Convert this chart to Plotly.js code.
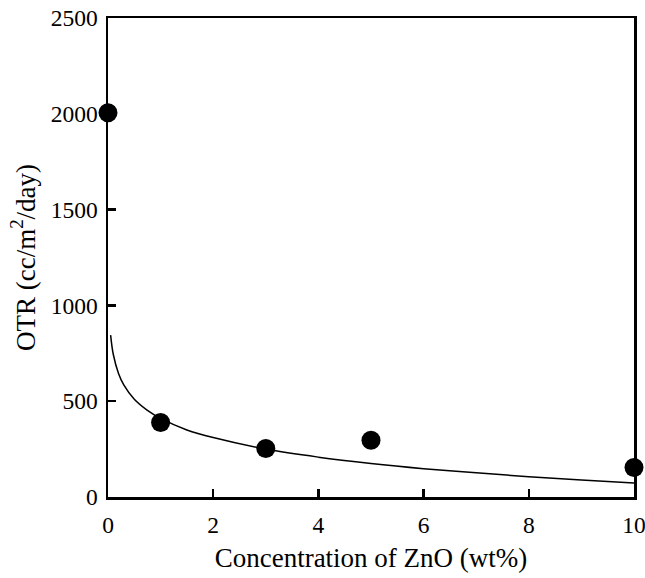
<!DOCTYPE html>
<html><head><meta charset="utf-8">
<script src="https://cdn.plot.ly/plotly-3.0.1.min.js"></script>
<style>body{margin:0;background:#fff}#chart{width:645px;height:578px}</style>
</head><body><div id="chart"></div>
<script>
const concentration = [0, 1, 3, 5, 10];
const otr = [2005, 389, 253, 296, 154];
const fitX = [0.05, 0.1, 0.2, 0.3, 0.5, 0.75, 1, 1.5, 2, 3, 4, 5, 6, 7, 8, 9, 10];
const fitY = [845, 745, 645, 585, 510, 452, 410, 350, 310, 250, 208, 175, 148, 126, 106, 89, 73];
const xTicks = [0, 2, 4, 6, 8, 10];
const yTicks = [0, 500, 1000, 1500, 2000, 2500];

const font = {family: 'Liberation Serif, Times New Roman, serif', color: '#000'};
const traces = [
  {x: fitX, y: fitY, mode: 'lines', line: {color: '#000', width: 1.5, shape: 'spline'}, hoverinfo: 'skip'},
  {x: concentration, y: otr, mode: 'markers', marker: {color: '#000', size: 19}, cliponaxis: false}
];
const axisCommon = {
  showline: true, linecolor: '#000', linewidth: 2.5, mirror: true,
  ticks: 'inside', ticklen: 8, tickwidth: 2.5, tickcolor: '#000',
  showgrid: false, zeroline: false, tickfont: Object.assign({size: 23.5}, font),
  ticklabeloverflow: 'allow'
};
const layout = {
  width: 645, height: 578, showlegend: false,
  paper_bgcolor: '#fff', plot_bgcolor: '#fff',
  margin: {l: 108, r: 11, t: 18, b: 81},
  xaxis: Object.assign({}, axisCommon, {
    range: [0, 10], tickvals: xTicks, ticktext: xTicks.map(String), ticklabelstandoff: 5,
    title: {text: 'Concentration of ZnO (wt%)', font: Object.assign({size: 27}, font), standoff: 12}
  }),
  yaxis: Object.assign({}, axisCommon, {
    range: [0, 2500], tickvals: yTicks, ticktext: yTicks.map(String), ticklabelstandoff: 3,
    title: {text: 'OTR (cc/m<sup>2</sup>/day)', font: Object.assign({size: 27}, font), standoff: 8}
  })
};
Plotly.newPlot('chart', traces, layout, {displayModeBar: false, staticPlot: true});
</script></body></html>
